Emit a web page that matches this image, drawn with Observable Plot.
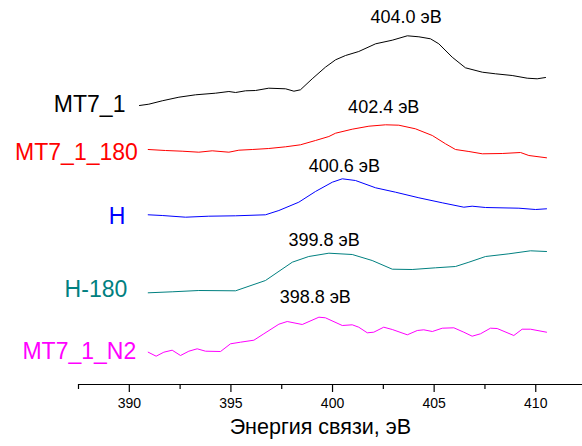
<!DOCTYPE html>
<html>
<head>
<meta charset="utf-8">
<script src="https://cdn.jsdelivr.net/npm/d3@7"></script>
<script src="https://cdn.jsdelivr.net/npm/@observablehq/plot@0.6"></script>
<style>
  html, body { margin: 0; padding: 0; background: #fff; }
</style>
</head>
<body>
<div id="chart"></div>
<script>
// ---- data (binding energy, eV; intensity, stacked arbitrary units) ----
const seriesNames = ["MT7_1", "MT7_1_180", "H", "H-180", "MT7_1_N2"];
const seriesColors = ["#000000", "#ff0000", "#0000ff", "#008080", "#ff00ff"];

const energyMT7_1 = [390.50, 390.96, 391.62, 392.44, 393.26, 394.24, 394.90, 395.23, 395.72, 396.21, 396.86, 397.69, 398.10, 398.42, 399.00, 399.65, 400.15, 400.64, 401.29, 402.12, 402.94, 403.68, 404.25, 404.82, 405.23, 405.89, 406.54, 407.37, 408.02, 408.84, 409.58, 410.07, 410.48];
const intensityMT7_1 = [279, 280.3, 283.7, 287.3, 289.7, 291.3, 293, 292, 293.7, 294, 296.3, 295.7, 293.3, 294.7, 305.7, 317.3, 324.7, 329, 333, 340.7, 344.3, 348.7, 347.7, 345.7, 340.7, 327.3, 316.7, 312.3, 310.7, 309, 306.3, 305.7, 307];

const energyMT7_1_180 = [390.93, 391.78, 392.60, 393.42, 394.08, 394.90, 395.39, 396.05, 396.86, 397.69, 398.42, 399.16, 399.82, 400.15, 400.97, 401.79, 402.61, 403.26, 404.08, 404.91, 405.56, 406.05, 406.71, 407.37, 408.35, 409.25, 409.66, 410.53];
const intensityMT7_1_180 = [235, 234, 233.3, 232.3, 233.7, 232.3, 234.3, 235, 236, 237.7, 239.7, 244, 248, 251.3, 255.3, 258.3, 259.7, 259.3, 255.7, 249, 240.7, 235, 233, 230.7, 231, 232, 229, 226.7];

const energyH = [390.93, 391.62, 392.77, 393.91, 395.23, 396.70, 397.36, 398.34, 399.16, 399.99, 400.48, 401.13, 402.12, 403.10, 404.25, 405.40, 406.46, 406.87, 407.53, 409.17, 409.99, 410.53];
const intensityH = [169.7, 169, 167.3, 168.3, 168.7, 169.7, 174, 182.3, 193, 202.3, 205.7, 204, 196.7, 192.3, 186.7, 181.7, 177.3, 178.3, 177, 176.3, 175, 175.7];

const energyH_180 = [390.93, 392.11, 393.42, 395.23, 396.70, 398.02, 398.83, 399.82, 400.97, 401.95, 402.94, 403.92, 405.07, 406.05, 406.71, 407.53, 408.68, 409.74, 410.53];
const intensityH_180 = [91.7, 92.7, 94, 93.7, 104, 122.3, 128, 131.3, 130, 124, 115.3, 115, 116.7, 118, 122.3, 128, 130.7, 133.7, 133];

const energyMT7_1_N2 = [390.93, 391.32, 391.70, 392.11, 392.52, 392.93, 393.34, 393.75, 394.49, 394.98, 395.47, 396.13, 396.62, 397.36, 397.77, 398.51, 399.33, 399.65, 400.48, 400.97, 401.29, 401.71, 402.03, 402.52, 402.94, 403.68, 404.17, 404.49, 404.91, 405.40, 405.97, 406.46, 406.87, 407.28, 407.77, 408.10, 408.92, 409.33, 409.74, 410.53];
const intensityMT7_1_N2 = [32.3, 28.3, 32.3, 34.3, 29, 33.3, 35.7, 33.3, 33, 40.7, 42.3, 44.3, 50.7, 60.3, 63, 60, 67.3, 66.7, 59, 59.7, 57.3, 51.7, 52.3, 57.3, 55, 49.7, 54, 54.7, 53, 56.3, 56.7, 52.3, 48.3, 50.7, 56.3, 56, 49, 55.3, 55.3, 52.3];

// series name labels (right edge energy, intensity level)
const nameLabelX = [389.81, 390.42, 389.81, 389.90, 390.34];
const nameLabelY = [280, 231.7, 168.3, 95, 33.3];

// peak annotations
const peakText = ["404.0 эВ", "402.4 эВ", "400.6 эВ", "399.8 эВ", "398.8 эВ"];
const peakLabelX = [403.62, 402.52, 400.58, 399.59, 399.15];
const peakLabelY = [367, 277, 218.3, 144, 87.3];

// axis ticks
const majorTicks = [390, 395, 400, 405, 410];
const minorTicks = [387.5, 392.5, 397.5, 402.5, 407.5, 412.5];
const xTitle = "Энергия связи, эВ";

// ---- build tables ----
const energies = [energyMT7_1, energyMT7_1_180, energyH, energyH_180, energyMT7_1_N2];
const intensities = [intensityMT7_1, intensityMT7_1_180, intensityH, intensityH_180, intensityMT7_1_N2];
const rows = [];
seriesNames.forEach((name, i) => {
  energies[i].forEach((e, j) => rows.push({series: name, energy: e, intensity: intensities[i][j]}));
});
const nameLabels = seriesNames.map((name, i) => ({name, x: nameLabelX[i], y: nameLabelY[i], color: seriesColors[i]}));
const peaks = peakText.map((t, i) => ({t, x: peakLabelX[i], y: peakLabelY[i]}));

const chart = Plot.plot({
  width: 582,
  height: 446,
  marginLeft: 78,
  marginRight: 0,
  marginTop: 0,
  marginBottom: 62,
  style: {fontFamily: "'Liberation Sans', Arial, sans-serif", background: "#fff", color: "#000"},
  x: {domain: [387.5, 412.3], axis: null},
  y: {domain: [0, 384], axis: null},
  color: {domain: seriesNames, range: seriesColors},
  marks: [
    Plot.ruleY([0], {stroke: "#000", strokeWidth: 1.2}),
    Plot.axisX({ticks: minorTicks, tickSize: 5, tickFormat: () => "", label: null, strokeWidth: 1.2}),
    Plot.axisX({ticks: majorTicks, tickSize: 8, tickPadding: 6, fontSize: 14, label: null, strokeWidth: 1.2}),
    Plot.text([xTitle], {x: 399.4, frameAnchor: "bottom", dy: 49, text: d => d, fontSize: 21.5, fill: "#000"}),
    Plot.line(rows, {x: "energy", y: "intensity", z: "series", stroke: "series", strokeWidth: 1}),
    Plot.text(nameLabels, {x: "x", y: "y", text: "name", fill: "color", textAnchor: "end", fontSize: 23}),
    Plot.text(peaks, {x: "x", y: "y", text: "t", fill: "#000", fontSize: 18})
  ]
});
document.getElementById("chart").appendChild(chart);
</script>
</body>
</html>
